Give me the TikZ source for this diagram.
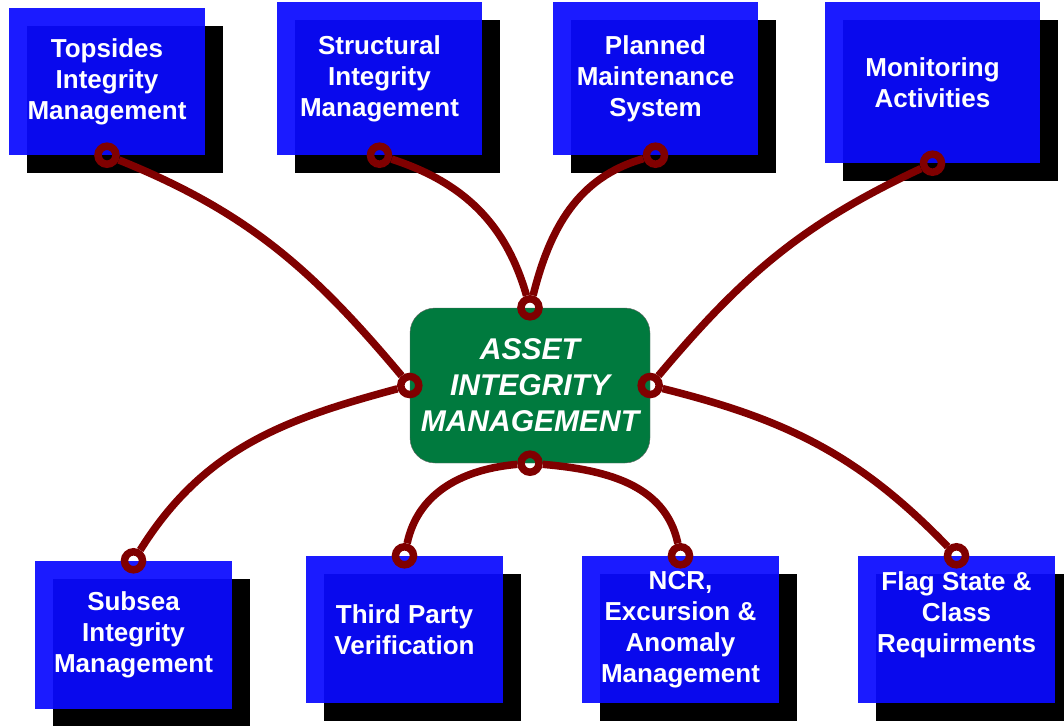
\documentclass[tikz,border=0pt]{standalone}
\usepackage{fontspec}
\setmainfont{Liberation Sans}
\usetikzlibrary{shadows}

\definecolor{boxblue}{RGB}{10,10,255}
\definecolor{aimgreen}{RGB}{0,122,62}
\definecolor{linkred}{RGB}{128,0,0}

\tikzset{
	box/.style={rectangle, fill=boxblue, fill opacity=0.93, text opacity=1, text=white,
		font=\fontsize{26}{31}\selectfont\bfseries, align=center, inner sep=0pt,
		minimum width=197pt, minimum height=147pt,
		general shadow={fill=black, fill opacity=1, shadow xshift=18pt, shadow yshift=-18pt}},
	aim/.style={rectangle, rounded corners=25pt, fill=aimgreen, draw=black!60, thin, text=white,
		font=\fontsize{30}{36}\selectfont\bfseries\itshape, align=center,
		minimum width=240pt, minimum height=155pt},
	ring/.style={circle, draw=linkred, line width=7.5pt, minimum size=18pt, inner sep=0pt},
	link/.style={draw=linkred, line width=7.5pt}
}

\begin{document}
\begin{tikzpicture}[x=1pt, y=-1pt]
	\useasboundingbox (0,0) rectangle (1064,725);
	
	% Top boxes
	\node[box, minimum width=196pt] (tim) at (107,81.5) {Topsides\\Integrity\\Management};
	\node[box, minimum width=205pt, minimum height=153pt] (sim) at (379.5,78.5) {Structural\\Integrity\\Management};
	\node[box, minimum width=205pt, minimum height=153pt] (pms) at (655.5,78.5) {Planned\\Maintenance\\System};
	\node[box, minimum width=215pt, minimum height=161pt] (mon) at (932.5,82.5) {Monitoring\\Activities};
	
	% Bottom boxes
	\node[box, minimum height=148pt] (ssim) at (133.5,635) {Subsea\\Integrity\\Management};
	\node[box] (tpv) at (404.5,629.5) {Third Party\\Verification};
	\node[box] (ncr) at (680.5,629.5) {NCR,\\Excursion \&\\Anomaly\\Management};
	\node[box, text depth=34pt] (flag) at (956.5,629.5) {Flag State \&\\Class\\Requirments};
	
	% Middle
	\node[aim] (aim) at (530,385.5) {ASSET\\INTEGRITY\\MANAGEMENT};
	
	% Rings
	\node[ring] (rtim) at (tim.south) {};
	\node[ring] (rsim) at (sim.south) {};
	\node[ring] (rpms) at (pms.south) {};
	\node[ring] (rmon) at (mon.south) {};
	\node[ring] (rssim) at (ssim.north) {};
	\node[ring] (rtpv) at (tpv.north) {};
	\node[ring] (rncr) at (ncr.north) {};
	\node[ring] (rflag) at (flag.north) {};
	\node[ring] (rn) at (aim.north) {};
	\node[ring] (rw) at (aim.west) {};
	\node[ring] (re) at (aim.east) {};
	\node[ring] (rs) at (aim.south) {};
	
	% Links
	\draw[link] (rtim) to[out=-22, in=130] (rw);
	\draw[link] (rsim) to[out=-18, in=106] (rn);
	\draw[link] (rpms) to[out=196, in=76] (rn);
	\draw[link] (rmon) to[out=205, in=50] (re);
	\draw[link] (rw) to[out=195, in=58] (rssim);
	\draw[link] (re) to[out=-14, in=134] (rflag);
	\draw[link] (rs) to[out=185, in=78] (rtpv);
	\draw[link] (rs) to[out=-5, in=102] (rncr);
\end{tikzpicture}
\end{document}
